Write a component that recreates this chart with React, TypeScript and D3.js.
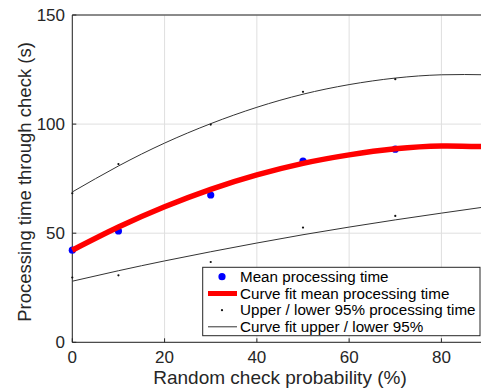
import React from "react";
import * as d3 from "d3";

const probX = [0, 10, 30, 50, 70];
const meanTime = [42.2, 51.0, 67.5, 83.0, 88.5];
const upper95 = [68.3, 81.7, 99.8, 114.8, 120.6];
const lower95 = [29.7, 30.7, 36.8, 52.6, 57.9];

const fitX = [0, 10, 20, 30, 40, 50, 60, 70, 80, 90];
const fitMean = [42.2, 52.8, 62.1, 70.1, 76.7, 82.0, 85.9, 88.7, 90.0, 89.6];
const fitUpper = [68.9, 80.8, 91.3, 100.2, 107.7, 113.7, 118.1, 121.1, 122.6, 122.6];
const fitLower = [28.0, 32.8, 37.3, 41.5, 45.5, 49.3, 52.8, 56.1, 59.2, 62.2];

const xTicks = [0, 20, 40, 60, 80];
const yTicks = [0, 50, 100, 150];
const legendLabels = [
  "Mean processing time",
  "Curve fit mean processing time",
  "Upper / lower 95% processing time",
  "Curve fit upper / lower 95%",
];

const W = 481;
const H = 390;
const L = 72.3;
const T = 15;
const B = 342.3;
const pxPer = 4.614;

export default function App() {
  const x = d3.scaleLinear().domain([0, 90]).range([L, L + 90 * pxPer]);
  const y = d3.scaleLinear().domain([0, 150]).range([B, T]);
  const line = (ys: number[]) =>
    d3
      .line<number>()
      .x((_, i) => x(fitX[i]))
      .y((d) => y(d))
      .curve(d3.curveNatural)(ys) as string;
  const txt = "#262626";
  const font = "Liberation Sans, Arial, Helvetica, sans-serif";
  const lx = 202.7;
  const ly = 267.3;
  const rowY = [276.7, 293.5, 310.2, 326.8];
  return (
    <svg
      width={W}
      height={H}
      style={{ position: "absolute", left: 0, top: 0, background: "#fff" }}
      fontFamily={font}
    >
      {/* grid */}
      {xTicks.map((t) => (
        <line key={"gx" + t} x1={x(t)} x2={x(t)} y1={T} y2={B} stroke="#dfdfdf" strokeWidth={1} />
      ))}
      {yTicks.map((t) => (
        <line key={"gy" + t} x1={L} x2={W} y1={y(t)} y2={y(t)} stroke="#dfdfdf" strokeWidth={1} />
      ))}
      {/* frame */}
      <line x1={L} x2={W} y1={T} y2={T} stroke={txt} strokeWidth={1} />
      <line x1={L} x2={L} y1={T} y2={B} stroke={txt} strokeWidth={1} />
      <line x1={L} x2={W} y1={B} y2={B} stroke={txt} strokeWidth={1} />
      {xTicks.map((t) => (
        <line key={"tx" + t} x1={x(t)} x2={x(t)} y1={B} y2={B - 4} stroke={txt} />
      ))}
      {yTicks.map((t) => (
        <line key={"ty" + t} x1={L} x2={L + 4} y1={y(t)} y2={y(t)} stroke={txt} />
      ))}
      {/* fits */}
      <path d={line(fitUpper)} fill="none" stroke="#333" strokeWidth={1} />
      <path d={line(fitLower)} fill="none" stroke="#333" strokeWidth={1} />
      {probX.map((p, i) => (
        <circle key={"u" + i} cx={x(p)} cy={y(upper95[i])} r={1.1} fill="#111" />
      ))}
      {probX.map((p, i) => (
        <circle key={"l" + i} cx={x(p)} cy={y(lower95[i])} r={1.1} fill="#111" />
      ))}
      {probX.map((p, i) => (
        <circle key={"m" + i} cx={x(p)} cy={y(meanTime[i])} r={3.6} fill="#0000ff" />
      ))}
      <path d={line(fitMean)} fill="none" stroke="#ff0000" strokeWidth={5.5} />
      {/* tick labels */}
      {xTicks.map((t) => (
        <text key={"xl" + t} x={x(t)} y={363} textAnchor="middle" fontSize={17} fill={txt}>
          {t}
        </text>
      ))}
      {yTicks.map((t) => (
        <text key={"yl" + t} x={65} y={y(t) + 6} textAnchor="end" fontSize={17} fill={txt}>
          {t}
        </text>
      ))}
      <text x={280} y={384} textAnchor="middle" fontSize={19} fill={txt}>
        Random check probability (%)
      </text>
      <text
        transform={`translate(31,182) rotate(-90)`}
        textAnchor="middle"
        fontSize={18.5}
        fill={txt}
      >
        Processing time through check (s)
      </text>
      {/* legend */}
      <rect x={lx} y={ly} width={W - 1 - lx} height={335.7 - ly} fill="#fff" stroke={txt} strokeWidth={1} />
      <circle cx={222} cy={rowY[0]} r={3.6} fill="#0000ff" />
      <line x1={208} x2={237} y1={rowY[1]} y2={rowY[1]} stroke="#ff0000" strokeWidth={5} />
      <circle cx={222} cy={rowY[2]} r={1.1} fill="#111" />
      <line x1={208} x2={237} y1={rowY[3]} y2={rowY[3]} stroke="#333" strokeWidth={1} />
      {legendLabels.map((s, i) => (
        <text key={s} x={240} y={rowY[i] + 5} fontSize={15.2} fill="#000">
          {s}
        </text>
      ))}
    </svg>
  );
}
